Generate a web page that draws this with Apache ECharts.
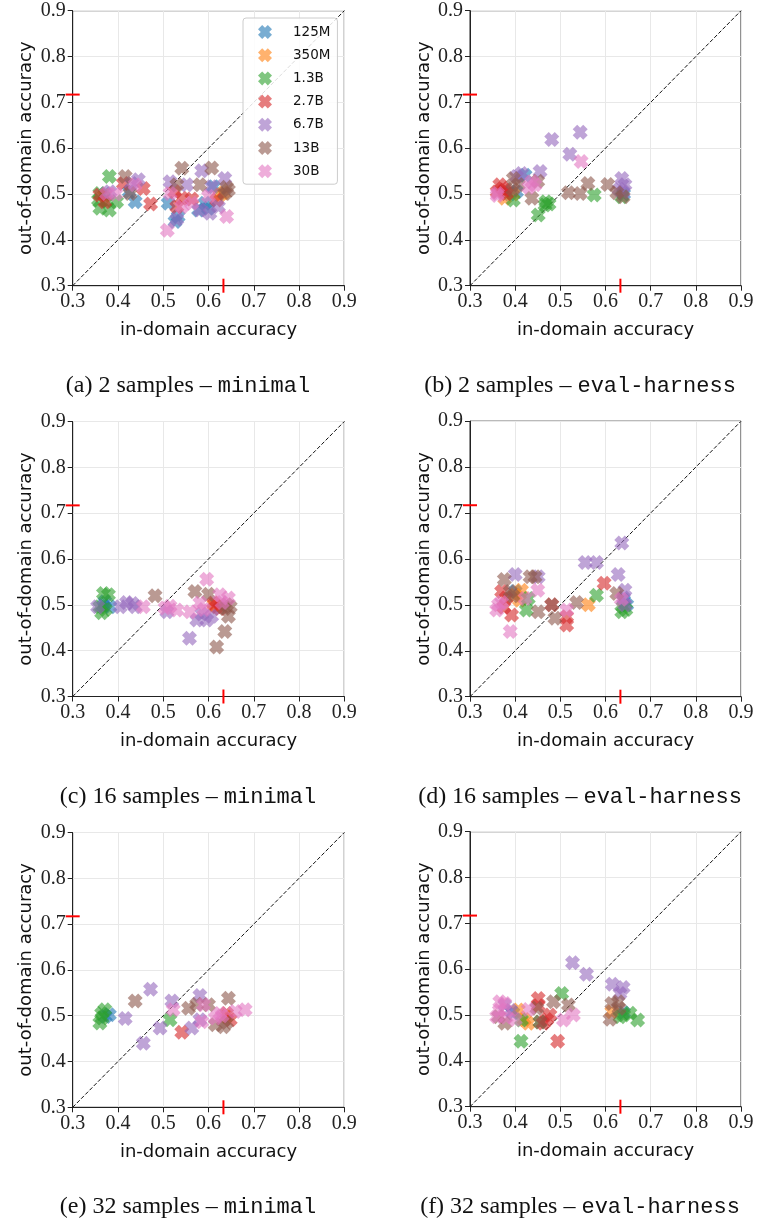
<!DOCTYPE html>
<html>
<head>
<meta charset="utf-8">
<script src="https://cdn.jsdelivr.net/npm/echarts@6/dist/echarts.min.js"></script>
<style>
html,body{margin:0;padding:0;background:#fff;}
#main{width:757px;height:1220px;}
</style>
</head>
<body>
<div id="main"></div>
<script>
// ---------------- DATA ----------------
const SIZES = ['125M', '350M', '1.3B', '2.7B', '6.7B', '13B', '30B'];
const TICKS = [0.3, 0.4, 0.5, 0.6, 0.7, 0.8, 0.9];
const TICK_LABELS = ['0.3', '0.4', '0.5', '0.6', '0.7', '0.8', '0.9'];
const REF_IN = 0.633;   // red tick on x axis
const REF_OUT = 0.717;  // red tick on y axis
const CAPTIONS = [
  ['(a) 2 samples – ', 'minimal'],
  ['(b) 2 samples – ', 'eval-harness'],
  ['(c) 16 samples – ', 'minimal'],
  ['(d) 16 samples – ', 'eval-harness'],
  ['(e) 32 samples – ', 'minimal'],
  ['(f) 32 samples – ', 'eval-harness']
];

// each panel: one list of [in-domain, out-of-domain] points per model size (SIZES order)
const panelA = [
  [[0.438,0.483],[0.526,0.440],[0.533,0.451],[0.511,0.480],[0.578,0.465],[0.592,0.480],[0.611,0.516],[0.600,0.469],[0.372,0.500],[0.425,0.505]],
  [[0.625,0.498],[0.633,0.502],[0.370,0.497]],
  [[0.381,0.538],[0.360,0.469],[0.381,0.465],[0.397,0.483],[0.360,0.501],[0.357,0.487],[0.375,0.485]],
  [[0.472,0.478],[0.360,0.498],[0.371,0.483],[0.412,0.523],[0.456,0.512],[0.530,0.472],[0.541,0.491],[0.563,0.489],[0.618,0.487],[0.525,0.505]],
  [[0.515,0.527],[0.552,0.520],[0.585,0.551],[0.636,0.534],[0.607,0.516],[0.622,0.472],[0.603,0.458],[0.445,0.531],[0.382,0.505],[0.430,0.523],[0.581,0.465],[0.530,0.445]],
  [[0.541,0.556],[0.607,0.557],[0.416,0.538],[0.581,0.520],[0.644,0.509],[0.530,0.520],[0.427,0.501],[0.636,0.501],[0.640,0.515]],
  [[0.509,0.421],[0.640,0.451],[0.375,0.501],[0.438,0.520],[0.515,0.501],[0.563,0.480],[0.541,0.472],[0.395,0.500],[0.600,0.495]]
];
const panelB = [
  [[0.422,0.541],[0.403,0.505],[0.388,0.500],[0.640,0.500]],
  [[0.377,0.491],[0.395,0.500]],
  [[0.451,0.454],[0.468,0.483],[0.466,0.476],[0.575,0.498],[0.396,0.487],[0.636,0.494],[0.475,0.478]],
  [[0.366,0.520],[0.377,0.509],[0.381,0.501],[0.360,0.505],[0.372,0.512]],
  [[0.481,0.619],[0.544,0.635],[0.521,0.587],[0.455,0.549],[0.636,0.534],[0.643,0.520],[0.639,0.505],[0.414,0.545],[0.403,0.538],[0.630,0.510]],
  [[0.561,0.523],[0.605,0.521],[0.518,0.503],[0.544,0.501],[0.625,0.503],[0.639,0.494],[0.437,0.491],[0.396,0.534],[0.407,0.520],[0.450,0.528],[0.395,0.510]],
  [[0.546,0.571],[0.361,0.501],[0.437,0.527],[0.444,0.520],[0.360,0.497],[0.430,0.515]]
];
const panelC = [
  [[0.382,0.496],[0.371,0.507],[0.368,0.498]],
  [[0.612,0.500]],
  [[0.368,0.525],[0.379,0.522],[0.364,0.483],[0.360,0.496],[0.372,0.490]],
  [[0.618,0.496],[0.611,0.504],[0.625,0.492]],
  [[0.405,0.496],[0.419,0.505],[0.438,0.496],[0.508,0.485],[0.558,0.427],[0.574,0.467],[0.596,0.467],[0.607,0.475],[0.355,0.496],[0.585,0.480],[0.432,0.503]],
  [[0.482,0.520],[0.570,0.529],[0.600,0.523],[0.618,0.408],[0.636,0.442],[0.648,0.496],[0.644,0.475],[0.636,0.492],[0.640,0.500]],
  [[0.456,0.496],[0.504,0.493],[0.530,0.489],[0.596,0.556],[0.581,0.504],[0.625,0.522],[0.644,0.515],[0.559,0.485],[0.590,0.490],[0.515,0.497],[0.630,0.505]]
];
const panelD = [
  [[0.647,0.500],[0.400,0.529],[0.640,0.510]],
  [[0.562,0.500],[0.414,0.532],[0.400,0.521],[0.410,0.510]],
  [[0.580,0.521],[0.425,0.489],[0.636,0.485],[0.639,0.496],[0.429,0.514],[0.645,0.490]],
  [[0.597,0.547],[0.392,0.478],[0.514,0.456],[0.514,0.474],[0.370,0.529],[0.481,0.500],[0.380,0.515],[0.375,0.495]],
  [[0.636,0.635],[0.555,0.592],[0.580,0.592],[0.400,0.566],[0.451,0.561],[0.628,0.566],[0.643,0.532],[0.643,0.500],[0.640,0.515]],
  [[0.376,0.555],[0.433,0.561],[0.444,0.561],[0.389,0.529],[0.536,0.505],[0.481,0.500],[0.451,0.485],[0.488,0.471],[0.625,0.525],[0.395,0.520]],
  [[0.450,0.532],[0.389,0.442],[0.363,0.500],[0.359,0.489],[0.422,0.514],[0.514,0.489],[0.635,0.512],[0.370,0.505]]
];
const panelE = [
  [[0.381,0.502],[0.372,0.498]],
  [[0.640,0.498]],
  [[0.364,0.505],[0.360,0.484],[0.371,0.513],[0.515,0.491],[0.365,0.495]],
  [[0.541,0.464],[0.648,0.491],[0.640,0.505]],
  [[0.416,0.494],[0.472,0.558],[0.456,0.440],[0.493,0.473],[0.519,0.532],[0.563,0.473],[0.581,0.544],[0.581,0.491]],
  [[0.438,0.532],[0.556,0.516],[0.574,0.525],[0.600,0.524],[0.644,0.538],[0.633,0.476],[0.615,0.480],[0.640,0.485]],
  [[0.522,0.513],[0.589,0.524],[0.681,0.513],[0.659,0.509],[0.625,0.505],[0.585,0.487],[0.615,0.495],[0.630,0.500]]
];
const panelF = [
  [[0.395,0.505],[0.640,0.505]],
  [[0.407,0.511],[0.429,0.482],[0.614,0.507],[0.420,0.490]],
  [[0.503,0.547],[0.413,0.443],[0.671,0.489],[0.632,0.496],[0.654,0.504],[0.414,0.489],[0.455,0.485],[0.640,0.500]],
  [[0.494,0.443],[0.451,0.536],[0.477,0.500],[0.462,0.482],[0.451,0.520],[0.470,0.490]],
  [[0.527,0.614],[0.558,0.589],[0.615,0.567],[0.639,0.560],[0.632,0.547],[0.377,0.522],[0.390,0.510]],
  [[0.485,0.529],[0.448,0.515],[0.614,0.525],[0.628,0.529],[0.610,0.491],[0.363,0.496],[0.377,0.482],[0.518,0.522],[0.455,0.485],[0.630,0.515]],
  [[0.366,0.529],[0.377,0.525],[0.429,0.512],[0.529,0.500],[0.507,0.489],[0.359,0.496],[0.380,0.495],[0.400,0.490],[0.365,0.510]]
];
const PANELS = [panelA, panelB, panelC, panelD, panelE, panelF];

// ---------------- LAYOUT / STYLE ----------------
const COLORS = ['#1f77b4', '#ff7f0e', '#2ca02c', '#d62728', '#9467bd', '#8c564b', '#e377c2'];
const GRIDS = [
  {left: 72.7, top: 10.7, width: 271.6, height: 275},
  {left: 470,  top: 10.7, width: 271,   height: 275},
  {left: 72.7, top: 421.5, width: 271.6, height: 275},
  {left: 470,  top: 421.2, width: 271,   height: 275.5},
  {left: 72.7, top: 832.5, width: 271.6, height: 274.8},
  {left: 470,  top: 831.7, width: 271,   height: 275}
];
const CAPTION_POS = [[183, 369], [575, 369], [183, 780], [575, 780], [183, 1190], [575, 1190]];
const XSYM = 'path://M0,3L3,0L5,2L7,0L10,3L8,5L10,7L7,10L5,8L3,10L0,7L2,5Z';

const chart = echarts.init(document.getElementById('main'), null, {renderer: 'canvas'});

const grid = [], xAxis = [], yAxis = [], series = [], title = [];
const tickFmt = v => { const i = TICKS.findIndex(t => Math.abs(t - v) < 1e-6); return i >= 0 ? TICK_LABELS[i] : ''; };

PANELS.forEach((panel, p) => {
  grid.push(Object.assign({show: true, borderColor: '#222', borderWidth: 1, backgroundColor: '#fff'}, GRIDS[p]));
  const common = {
    min: TICKS[0], max: TICKS[TICKS.length - 1], interval: 0.1, gridIndex: p,
    axisLine: {show: true, onZero: false, lineStyle: {color: '#222', width: 1}},
    axisTick: {show: true, inside: false, length: 5, lineStyle: {color: '#222', width: 1}},
    splitLine: {show: true, lineStyle: {color: '#e8e8e8', width: 1}},
    axisLabel: {formatter: tickFmt, fontFamily: 'Liberation Serif', fontSize: 20, color: '#222', showMinLabel: true, showMaxLabel: true},
    nameLocation: 'middle',
    nameTextStyle: {fontFamily: 'DejaVu Sans', fontSize: 18, color: '#111'}
  };
  xAxis.push(Object.assign({}, common, {type: 'value', name: 'in-domain accuracy', nameGap: 36,
    axisLabel: Object.assign({}, common.axisLabel, {margin: 6})}));
  yAxis.push(Object.assign({}, common, {type: 'value', name: 'out-of-domain accuracy', nameGap: 37,
    axisLabel: Object.assign({}, common.axisLabel, {margin: 7})}));

  // diagonal
  series.push({type: 'line', xAxisIndex: p, yAxisIndex: p, silent: true, symbol: 'none',
    data: [[TICKS[0], TICKS[0]], [TICKS[TICKS.length - 1], TICKS[TICKS.length - 1]]],
    lineStyle: {color: '#111', width: 1, type: [4, 2]}, z: 1});

  panel.forEach((pts, s) => {
    series.push({type: 'scatter', name: SIZES[s], xAxisIndex: p, yAxisIndex: p,
      data: pts, symbol: XSYM, symbolSize: 15,
      itemStyle: {color: COLORS[s], opacity: 0.6}, z: 3});
  });

  // red reference ticks
  series.push({type: 'scatter', xAxisIndex: p, yAxisIndex: p, silent: true, clip: false,
    data: [[REF_IN, TICKS[0]]], symbol: 'rect', symbolSize: [2, 14], itemStyle: {color: '#ff0000', opacity: 1}, z: 5});
  series.push({type: 'scatter', xAxisIndex: p, yAxisIndex: p, silent: true, clip: false,
    data: [[TICKS[0], REF_OUT]], symbol: 'rect', symbolSize: [14, 2], itemStyle: {color: '#ff0000', opacity: 1}, z: 5});

  title.push({
    text: '{a|' + CAPTIONS[p][0] + '}{b|' + CAPTIONS[p][1] + '}',
    left: CAPTION_POS[p][0], top: CAPTION_POS[p][1], textAlign: 'center',
    textStyle: {fontWeight: 'normal', rich: {
      a: {fontFamily: 'Liberation Serif', fontSize: 24, fontWeight: 'normal', color: '#111'},
      b: {fontFamily: 'Liberation Mono', fontSize: 22, fontWeight: 'normal', color: '#111'}
    }}
  });
});

chart.setOption({
  animation: false,
  backgroundColor: '#fff',
  title: title,
  grid: grid,
  xAxis: xAxis,
  yAxis: yAxis,
  legend: {
    data: SIZES, orient: 'vertical', left: 243, top: 18,
    padding: [7, 7, 6, 15], itemWidth: 14, itemHeight: 14, itemGap: 9.2,
    backgroundColor: 'rgba(255,255,255,0.85)', borderColor: '#cccccc', borderWidth: 1, borderRadius: 3,
    textStyle: {fontFamily: 'DejaVu Sans', fontSize: 13.5, color: '#111', lineHeight: 14, padding: [0, 0, 0, 16]},
    itemStyle: {opacity: 0.6}
  },
  series: series
});
</script>
</body>
</html>
